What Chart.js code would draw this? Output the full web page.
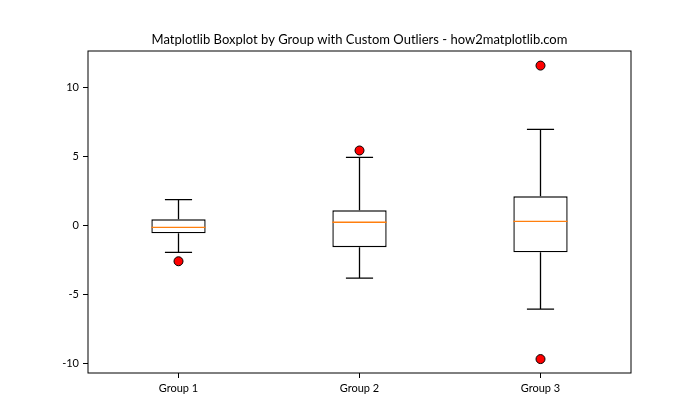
<!DOCTYPE html>
<html>
<head>
<meta charset="utf-8">
<script src="https://cdn.jsdelivr.net/npm/chart.js@4.4.0/dist/chart.umd.min.js"></script>
<style>
  html, body { margin: 0; padding: 0; background: #fff; }
  #wrap { width: 700px; height: 420px; }
</style>
</head>
<body>
<div id="wrap"><canvas id="boxchart"></canvas></div>
<script>
// values
const groups = ['Group 1', 'Group 2', 'Group 3'];
const q1 = [-0.58, -1.59, -1.96];
const q3 = [0.43, 1.09, 2.10];
const medians = [-0.15, 0.22, 0.29];
const whiskerLow = [-1.96, -3.84, -6.09];
const whiskerHigh = [1.86, 4.93, 6.96];
const outlierGroups = ['Group 1', 'Group 2', 'Group 3', 'Group 3'];
const outlierValues = [-2.61, 5.43, 11.59, -9.71];
const yTicks = [-10, -5, 0, 5, 10];

const titleText = 'Matplotlib Boxplot by Group with Custom Outliers - how2matplotlib.com';
const fontFamily = 'Lato, "Noto Sans", sans-serif';

// whiskers, caps, medians, frame and title
const boxParts = {
    id: 'boxParts',
    afterDatasetsDraw(chart) {
        const {ctx, chartArea, scales: {x, y}} = chart;
        const bars = chart.getDatasetMeta(0).data;
        ctx.save();
        groups.forEach((g, i) => {
            const cx = x.getPixelForValue(i);
            const half = bars[i].width / 2;
            const cap = half / 2;
            ctx.strokeStyle = '#000';
            ctx.lineWidth = 1.3;
            ctx.beginPath();
            ctx.moveTo(cx, y.getPixelForValue(q3[i]));
            ctx.lineTo(cx, y.getPixelForValue(whiskerHigh[i]));
            ctx.moveTo(cx, y.getPixelForValue(q1[i]));
            ctx.lineTo(cx, y.getPixelForValue(whiskerLow[i]));
            ctx.moveTo(cx - cap, y.getPixelForValue(whiskerHigh[i]));
            ctx.lineTo(cx + cap, y.getPixelForValue(whiskerHigh[i]));
            ctx.moveTo(cx - cap, y.getPixelForValue(whiskerLow[i]));
            ctx.lineTo(cx + cap, y.getPixelForValue(whiskerLow[i]));
            ctx.stroke();
            ctx.strokeStyle = '#ff7f0e';
            ctx.beginPath();
            ctx.moveTo(cx - half, y.getPixelForValue(medians[i]));
            ctx.lineTo(cx + half, y.getPixelForValue(medians[i]));
            ctx.stroke();
        });
        ctx.strokeStyle = '#000';
        ctx.lineWidth = 1;
        ctx.strokeRect(chartArea.left, chartArea.top, chartArea.right - chartArea.left, chartArea.bottom - chartArea.top);
        ctx.fillStyle = '#000';
        ctx.font = '13px ' + fontFamily;
        ctx.textAlign = 'center';
        ctx.textBaseline = 'middle';
        ctx.fillText(titleText, (chartArea.left + chartArea.right) / 2, 40);
        ctx.restore();
    }
};

const ctxBox = document.getElementById('boxchart');

new Chart(ctxBox, {
    type: 'bar',
    data: {
        labels: groups,
        datasets: [{
                label: 'box',
                data: groups.map((g, i) => [q1[i], q3[i]]),
                backgroundColor: '#fff',
                borderColor: '#000',
                borderWidth: 1.4,
                borderSkipped: false,
                barPercentage: 0.3,
                categoryPercentage: 1
            },
            {
                type: 'line',
                label: 'outliers',
                data: outlierGroups.map((g, i) => ({x: g, y: outlierValues[i]})),
                showLine: false,
                pointRadius: 4.5,
                pointBackgroundColor: 'red',
                pointBorderColor: '#000',
                pointBorderWidth: 1
            }
        ]
    },
    options: {
        responsive: true,
        maintainAspectRatio: false,
        animation: false,
        layout: { padding: { top: 51, right: 69, left: 0, bottom: 0 } },
        plugins: {
            legend: { display: false },
            tooltip: { enabled: false }
        },
        scales: {
            x: {
                offset: true,
                grid: { display: true, drawOnChartArea: false, drawTicks: true, tickLength: 5, tickColor: '#000', offset: false },
                border: { display: false },
                ticks: { color: '#000', font: { family: fontFamily, size: 11 }, padding: 4 },
                afterFit(scale) { scale.height = 47; }
            },
            y: {
                min: -10.72,
                max: 12.65,
                grid: { display: true, drawOnChartArea: false, drawTicks: true, tickLength: 5, tickColor: '#000' },
                border: { display: false },
                ticks: { color: '#000', font: { family: fontFamily, size: 11 }, padding: 4 },
                afterBuildTicks(scale) { scale.ticks = yTicks.map(v => ({value: v})); },
                afterFit(scale) { scale.width = 88; }
            }
        }
    },
    plugins: [boxParts]
});
</script>
</body>
</html>
